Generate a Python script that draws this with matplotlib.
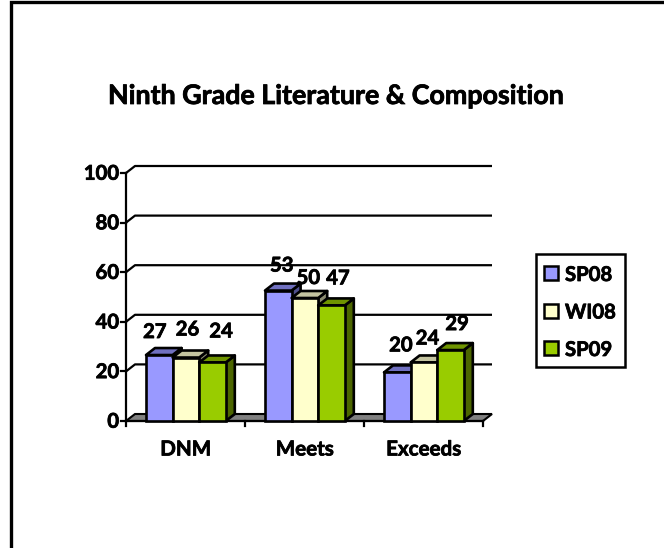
import matplotlib
matplotlib.use("Agg")
import matplotlib.pyplot as plt
import matplotlib.patheffects as pe
from matplotlib.patches import Polygon, Rectangle

categories = ["DNM", "Meets", "Exceeds"]
series_names = ["SP08", "WI08", "SP09"]
sp08 = [27, 53, 20]
wi08 = [26, 50, 24]
sp09 = [24, 47, 29]
y_ticks = [0, 20, 40, 60, 80, 100]

W, H = 664, 548
plt.rcParams["font.family"] = ["Lato", "DejaVu Sans"]
fig = plt.figure(figsize=(W / 100, H / 100), dpi=100, facecolor="white")
THICK = [pe.withStroke(linewidth=0.55, foreground="black")]

# page-pixel overlay
pg = fig.add_axes([0, 0, 1, 1], zorder=0)
pg.set_xlim(0, W); pg.set_ylim(H, 0); pg.axis("off")
pg.plot([11, 11, W], [H, 2, 2], color="black", lw=2.4, solid_joinstyle="miter", solid_capstyle="butt")
pg.text(335, 96, "Ninth Grade Literature & Composition", ha="center", va="center",
        fontsize=19.3, fontweight="bold", color="black", path_effects=THICK)

# plot axes: front plane
x0, x1, ytop, ybot = 126, 483, 173, 421
ax = fig.add_axes([x0 / W, 1 - ybot / H, (x1 - x0) / W, (ybot - ytop) / H], zorder=1)
ax.set_xlim(0, len(categories)); ax.set_ylim(0, 100)
ax.patch.set_alpha(0)
for s in ax.spines.values():
    s.set_visible(False)
ax.set_xticks([]); ax.set_yticks([])

DX = 9 * len(categories) / (x1 - x0)
DY = 7 * 100 / (ybot - ytop)
LW = 1.9
K = "black"

# walls and floor
ax.add_patch(Polygon([(0, 0), (DX, DY), (len(categories) + DX, DY), (len(categories), 0)],
                     closed=True, fc="#808080", ec=K, lw=1.5, clip_on=False, zorder=1))
for v in y_ticks:
    if v:
        ax.plot([0, DX, len(categories) + DX], [v, v + DY, v + DY], color=K, lw=1.6,
                clip_on=False, zorder=1, solid_capstyle="butt")
    ax.plot([-5 * len(categories) / (x1 - x0), 0], [v, v], color=K, lw=1.6, clip_on=False, zorder=2)
    ax.annotate(str(v), (0, v), xytext=(-5, -0.5), textcoords="offset points", ha="right", va="center",
                fontsize=14.6, fontweight="bold", annotation_clip=False, path_effects=THICK)
ax.plot([0, 0], [0, 100], color=K, lw=1.6, clip_on=False, zorder=2)
ax.plot([0, len(categories)], [0, 0], color=K, lw=1.6, clip_on=False, zorder=2)
for i in range(len(categories) + 1):
    ax.plot([i, i], [0, -2.2], color=K, lw=1.6, clip_on=False, zorder=2)
for i, c in enumerate(categories):
    ax.annotate(c, (i + 0.5, 0), xytext=(0, -20.5), textcoords="offset points", ha="center", va="center",
                fontsize=14.8, fontweight="bold", annotation_clip=False, path_effects=THICK)

# bars
face = ["#9999FF", "#FFFFCC", "#99CC00"]
top = ["#7070C0", "#C4C4A0", "#6F9400"]
side = ["#50508C", "#8C8C70", "#4C6600"]
bw = 26.6 * len(categories) / (x1 - x0)
gap_left = 20 * len(categories) / (x1 - x0)
data = [sp08, wi08, sp09]
# label shifts from bar-top centre, in pixels
label_dx = [[-9, -3, 4], [-1, -1, 2], [-1, -1, 2]]
label_dy = [[16, 21, 24], [18, 13, 20], [20, 17, 19]]
px = 72 / 100
for c in range(len(categories)):
    for s in range(3):
        v = data[s][c] - 0.4
        l = c + gap_left + s * bw
        r = l + bw
        z = 3 + s
        ax.add_patch(Polygon([(r, 0), (r + DX, DY), (r + DX, v + DY), (r, v)], closed=True,
                             fc=side[s], ec=K, lw=LW, clip_on=False, zorder=z, joinstyle="round"))
        ax.add_patch(Polygon([(l, v), (l + DX, v + DY), (r + DX, v + DY), (r, v)], closed=True,
                             fc=top[s], ec=K, lw=LW, clip_on=False, zorder=z, joinstyle="round"))
        ax.add_patch(Rectangle((l, 0), bw, v, fc=face[s], ec=K, lw=LW, clip_on=False, zorder=z,
                               joinstyle="miter"))
        ax.annotate(str(data[s][c]), ((l + r) / 2 + DX / 2, v + DY),
                    xytext=(label_dx[c][s] * px, label_dy[c][s] * px),
                    textcoords="offset points", ha="center", va="center",
                    fontsize=14.6, fontweight="bold", annotation_clip=False, zorder=10,
                    path_effects=THICK)

# legend
pg.add_patch(Rectangle((535.5, 254), 89, 113, fc="white", ec=K, lw=1.8))
for i, n in enumerate(series_names):
    yc = 273 + i * 37.5
    pg.add_patch(Rectangle((544, yc - 7), 14, 14, fc=face[i], ec=K, lw=1.8))
    pg.text(565, yc + 2, n, ha="left", va="center", fontsize=14.6, fontweight="bold", path_effects=THICK)

fig.savefig("out.png", dpi=100, facecolor="white")
